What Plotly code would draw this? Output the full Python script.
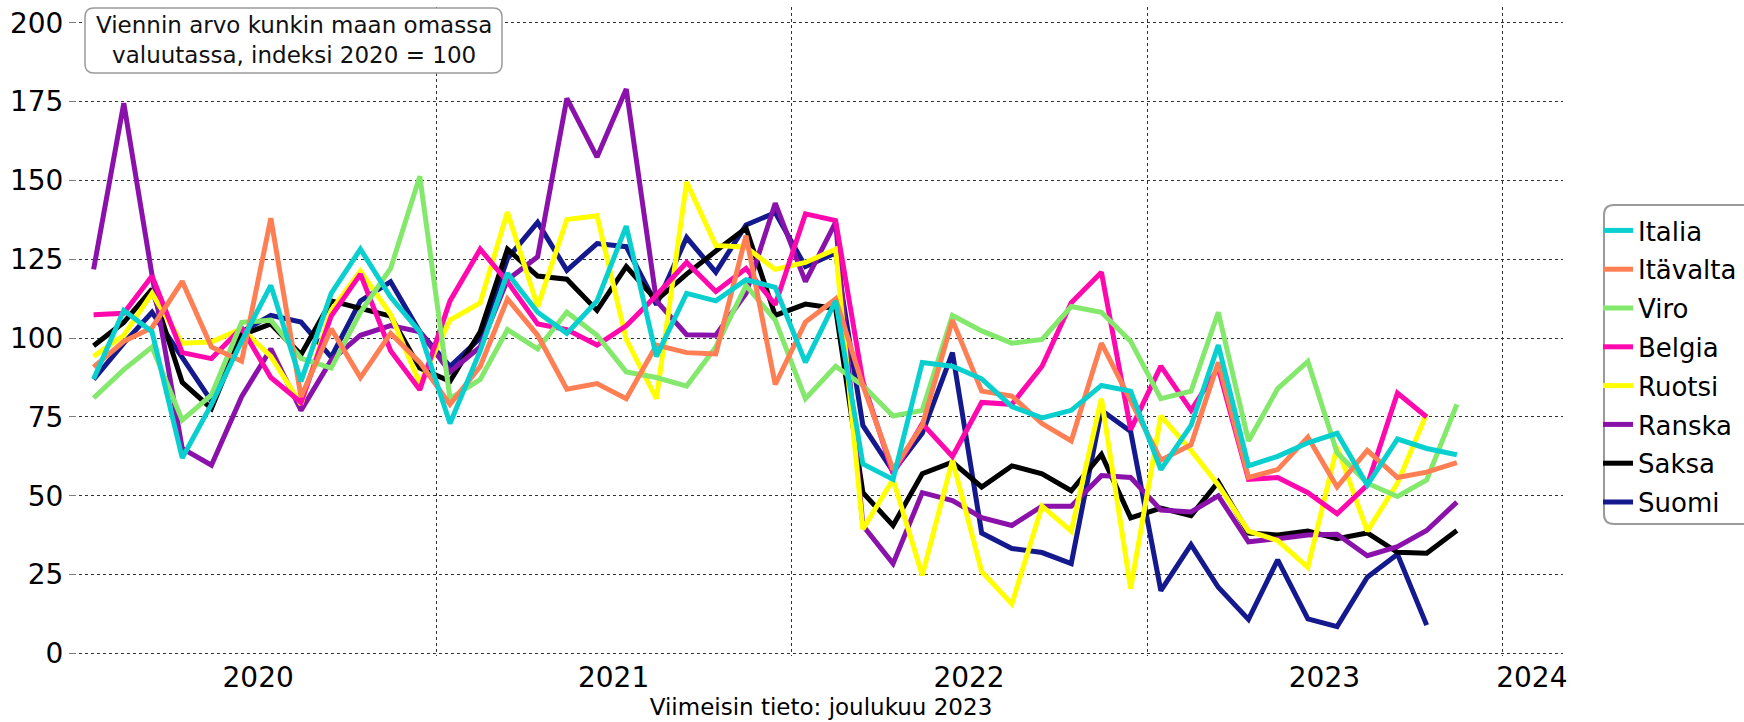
import plotly.graph_objects as go

# ---- data (monthly, Jan 2020 onwards) ----
months = [f"{y}-{m:02d}-15" for y in range(2020, 2024) for m in range(1, 13)]

italia = [87, 108.8, 102, 62, 79, 99, 116.7, 86.3, 114.2, 128.2, 113, 102, 72.9, 96, 120.6, 108.2,
          101.5, 111.8, 135.5, 94.2, 114.2, 111.8, 118.5, 116.1, 92.3, 111.8, 60.1, 55.2, 92.3, 91.1,
          87.1, 78.3, 74.7, 77.1, 85, 83.2, 58.3, 72.3, 97.8, 59.5, 62.5, 66.8, 69.8, 53.4, 68, 65, 63]
itavalta = [90.8, 99, 103.3, 118, 97.2, 92.7, 138, 81.4, 103, 87.5, 101.5, 92.3, 79, 91, 112.4, 100.9,
            83.8, 85.6, 80.8, 97.8, 95.4, 95, 132.5, 85.3, 105.1, 112.4, 85, 58.3, 72.3, 105.7,
            83.2, 81.6, 72.9, 67.4, 98.4, 80, 61.3, 66.2, 92.3, 55.8, 58.3, 68.6, 52.8, 64.4, 55.8, 57.5, 60.5]
viro = [81, 90, 97.2, 74, 82, 105, 105.7, 93.6, 90.5, 108.2, 122.1, 151.3, 80.8, 86.9, 102.7, 96.6,
        108.2, 100.9, 89.3, 87.5, 84.8, 97.2, 116.7, 105.7, 80.8, 91.1, 85, 75.3, 77.1, 107.2,
        102.3, 98.4, 99.6, 110, 108.2, 99, 80.8, 83.2, 108.2, 67.4, 84, 92.6, 63.7, 54, 49.8, 55, 79]
belgia = [107.4, 107.9, 119.7, 95.4, 93.5, 103.3, 87.5, 79.6, 107, 120.3, 96, 83.6, 111.8, 128.2, 117.9,
          104.5, 102.7, 97.8, 103.9, 113.6, 124, 114.8, 122.1, 110.6, 139.4, 137.3, 86.3, 57, 72.9,
          62.5, 79.6, 79, 91.1, 111.2, 120.9, 71, 91.1, 77.1, 90.5, 55.2, 55.8, 51, 44.3, 53.4, 82.6, 75]
ruotsi = [94.2, 100.9, 114.2, 98.4, 98.8, 103, 94.2, 79, 108.8, 121.3, 107.5, 85.6, 105.7, 111.2, 140,
          110, 137.6, 138.8, 99.6, 80.8, 149.5, 129.4, 128.8, 121.8, 124, 128.2, 39.4, 55.2, 24.8,
          61.3, 26, 15.7, 46.7, 38.8, 80.8, 20.6, 75.3, 64.4, 53.4, 38.8, 35.8, 27.3, 65.6, 38.8, 54, 76]
ranska = [121.8, 174.5, 120, 65, 59.7, 81.4, 96.6, 77.1, 93, 100.9, 104, 102, 89.3, 97.2, 118.5, 125.8,
          176, 157.4, 179, 111.8, 101.1, 100.9, 114.2, 142.8, 117.9, 136.7, 40.6, 28.5, 51, 48.5,
          43.1, 40.6, 46.7, 46.7, 56.4, 55.8, 45.5, 44.9, 50, 35.4, 36.4, 37.6, 37.8, 31, 33.9, 39, 48]
saksa = [97.6, 105, 115.5, 86, 77.7, 101, 104.5, 94.8, 111.8, 109.6, 107, 90.5, 86.3, 102, 128.2, 119.7,
         118.7, 108.8, 122.7, 112, 120.3, 127.6, 134.9, 107.2, 110.8, 109.4, 51, 40.6, 57, 60.7,
         52.8, 59.5, 57, 51.6, 63.1, 43, 46.1, 43.7, 54.4, 38.2, 37.6, 38.8, 36.4, 38.2, 32.1, 31.8, 39]
suomi = [86.9, 98.4, 108.2, 93.6, 80, 102, 107.2, 105.1, 94, 111.8, 117.9, 102, 91, 100, 125.2, 136.7,
         121.5, 130, 129, 110.6, 131.9, 120.9, 135.9, 139.8, 122.7, 127, 72.3, 57.7, 69.8, 95.4,
         38.2, 33.3, 32, 28.5, 77.1, 70.4, 19.9, 34.5, 21, 10.8, 29.7, 11, 8.5, 24.2, 31.5, 9]

series = [
    ("Italia", italia, "#0ACFCF"),
    ("Itävalta", itavalta, "#FF7F55"),
    ("Viro", viro, "#84E86C"),
    ("Belgia", belgia, "#FF08AE"),
    ("Ruotsi", ruotsi, "#FFFF00"),
    ("Ranska", ranska, "#8A12AA"),
    ("Saksa", saksa, "#000000"),
    ("Suomi", suomi, "#15198E"),
]

year_labels = ["2020", "2021", "2022", "2023", "2024"]
year_label_pos = ["2020-07-02", "2021-07-02", "2022-07-02", "2023-07-02", "2024-01-31"]
year_bounds = ["2020-01-01", "2021-01-01", "2022-01-01", "2023-01-01", "2024-01-01"]

title_text = "Viennin arvo kunkin maan omassa<br>valuutassa, indeksi 2020 = 100"
caption = "Viimeisin tieto: joulukuu 2023"

# ---- layout geometry ----
W, H = 1744, 722
L, R, T, B = 79, 181, 7, 66
PW, PH = W - L - R, H - T - B
FONT = "DejaVu Sans"


def paper(px, py):
    return (px - L) / PW, 1 - (py - T) / PH


def rounded_path(x0, y0, x1, y1, r):
    def p(x, y):
        a, b = paper(x, y)
        return f"{a:.5f},{b:.5f}"
    path = f"M {p(x0 + r, y0)} L {p(x1 - r, y0)} Q {p(x1, y0)} {p(x1, y0 + r)} "
    path += f"L {p(x1, y1 - r)} Q {p(x1, y1)} {p(x1 - r, y1)} "
    path += f"L {p(x0 + r, y1)} Q {p(x0, y1)} {p(x0, y1 - r)} "
    path += f"L {p(x0, y0 + r)} Q {p(x0, y0)} {p(x0 + r, y0)} Z"
    return path


fig = go.Figure()
n = len(series)
for i, (name, vals, col) in enumerate(series):
    fig.add_trace(go.Scatter(
        x=months[:len(vals)], y=vals, name=name, mode="lines",
        line=dict(color=col, width=5), legendgroup=name, zorder=n - i,
    ))

fig.update_layout(
    width=W, height=H,
    margin=dict(l=L, r=R, t=T, b=B, autoexpand=False),
    paper_bgcolor="white", plot_bgcolor="white",
    font=dict(family=FONT, color="black"),
    showlegend=True,
    legend=dict(
        xref="container", yref="container",
        x=1598 / W, y=1 - 207 / H, xanchor="left", yanchor="top",
        font=dict(size=26, family=FONT, color="black"),
        bgcolor="rgba(0,0,0,0)", borderwidth=0,
        traceorder="grouped", tracegroupgap=2,
    ),
)

fig.update_xaxes(
    range=["2019-12-31", "2024-03-03"],
    tickmode="array", tickvals=year_label_pos, ticktext=year_labels,
    ticks="", showgrid=False, ticklabelstandoff=-8,
    tickfont=dict(size=28, family=FONT, color="black"),
    showline=True, linecolor="#808080", linewidth=5,
    minor=dict(tickmode="array", tickvals=year_bounds, showgrid=True,
               gridcolor="#333333", griddash="dot", gridwidth=1, ticks=""),
    title=dict(text=caption, font=dict(size=23, family=FONT, color="black"), standoff=4),
    zeroline=False,
)
fig.update_yaxes(
    range=[-0.8, 205],
    tickmode="array", tickvals=[0, 25, 50, 75, 100, 125, 150, 175, 200],
    tickfont=dict(size=28, family=FONT, color="black"),
    ticks="outside", ticklen=7, tickcolor="#808080", tickwidth=1,
    showgrid=True, gridcolor="#333333", griddash="dot", gridwidth=1,
    showline=True, linecolor="#909090", linewidth=3,
    zeroline=False,
)

# title box (rounded)
fig.add_shape(type="path", xref="paper", yref="paper",
              path=rounded_path(85, 8, 502, 73, 9),
              line=dict(color="#9a9a9a", width=1.5), fillcolor="white", layer="above")
cx, cy = paper((85 + 502) / 2, (8 + 73) / 2)
fig.add_annotation(xref="paper", yref="paper", x=cx, y=cy, xanchor="center", yanchor="middle",
                   text=title_text, showarrow=False, align="center",
                   font=dict(size=23, family=FONT, color="#111111"))

# legend box (rounded, runs off the right edge)
fig.add_shape(type="path", xref="paper", yref="paper",
              path=rounded_path(1604, 205, 1775, 524, 10),
              line=dict(color="#9a9a9a", width=2), fillcolor="white", layer="above")

fig.write_html("out.html", config={"displayModeBar": False},
               post_script="document.body.style.margin='0';")
